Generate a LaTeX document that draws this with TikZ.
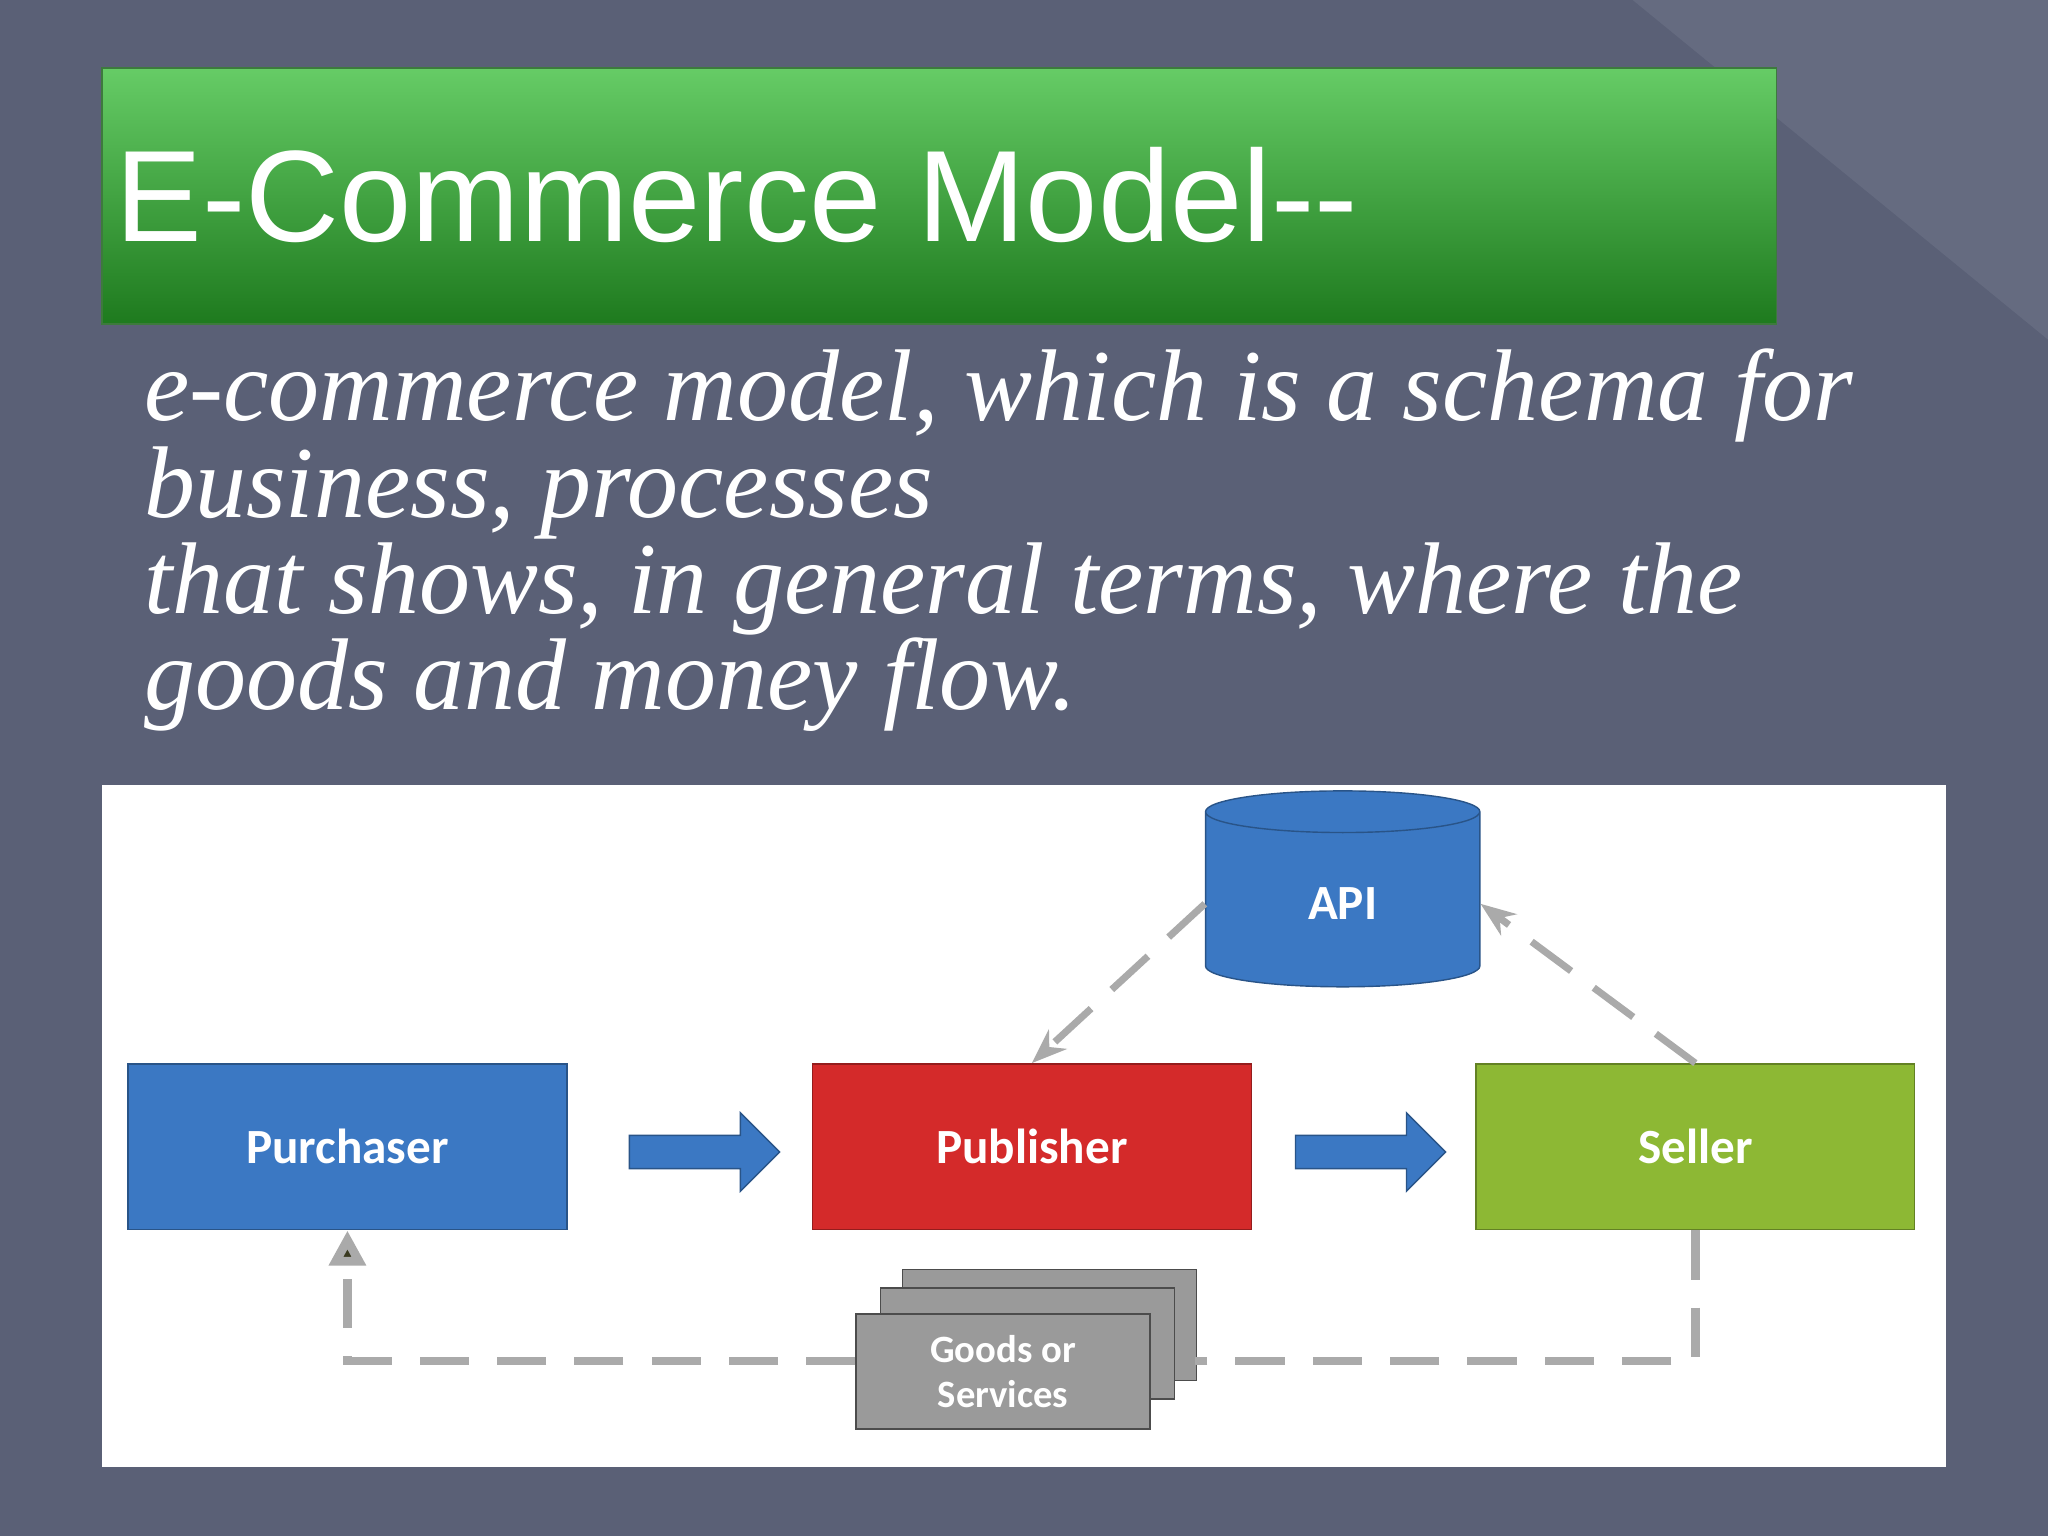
\documentclass[tikz,border=0pt]{standalone}
\usepackage{fontspec}
\setmainfont{Liberation Serif}
\newfontfamily\titlef{Liberation Sans}
\newfontfamily\nodef{Carlito}
\usetikzlibrary{shapes.geometric,shapes.arrows,arrows.meta}
\definecolor{bg}{HTML}{5A6076}
\definecolor{bgl}{HTML}{656B80}
\definecolor{gtop}{HTML}{66CC66}
\definecolor{gbot}{HTML}{1E7A1E}
\definecolor{pblue}{HTML}{3B78C3}
\definecolor{pred}{HTML}{D42A2A}
\definecolor{pgreen}{HTML}{8DB834}
\definecolor{dashc}{HTML}{AAAAAA}
\definecolor{docg}{HTML}{9A9A9A}
\definecolor{olive}{HTML}{3A3A20}
\begin{document}
\begin{tikzpicture}[x=0.013061cm,y=-0.013061cm,
  box/.style={draw=#1!70!black,fill=#1,text=white,font=\nodef\bfseries\fontsize{14}{16}\selectfont,minimum width=336*0.013061cm,minimum height=127*0.013061cm,inner sep=0},
  blk/.style={single arrow,fill=pblue,draw=pblue!70!black,minimum height=115*0.013061cm,minimum width=60*0.013061cm,single arrow head extend=3pt,inner sep=2pt},
  dl/.style={draw=dashc,line width=2.5pt,dash pattern=on 14pt off 8pt},
  line/.style={font=\itshape\fontsize{29}{32}\selectfont,text=white,anchor=base west,inner sep=0}]
\useasboundingbox (0,0) rectangle (1568,1176);
\fill[bg] (0,0) rectangle (1568,1176);
\fill[bgl] (1250,0) -- (1568,0) -- (1568,260) -- cycle;
\shade[top color=gtop,bottom color=gbot,draw=gtop!60!black] (78,52) rectangle (1360,248);
\node[anchor=base west,text=white,font=\titlef\fontsize{37}{42}\selectfont,inner sep=0] (title) at (88,185) {E-Commerce Model--};
\node[line] (l1) at (110,322) {e-commerce model, which is a schema for};
\node[line] (l2) at (110,396) {business, processes};
\node[line] (l3) at (110,470) {that shows, in general terms, where the};
\node[line] (l4) at (110,543) {goods and money flow.};
\fill[white] (78,601) rectangle (1490,1123);
\node[box=pblue] (pur) at (266,878) {Purchaser};
\node[box=pred] (pub) at (790,878) {Publisher};
\node[box=pgreen] (sel) at (1298,878) {Seller};
\node[cylinder,shape border rotate=90,aspect=0.45,fill=pblue,draw=pblue!70!black,minimum width=210*0.013061cm,minimum height=150*0.013061cm,text=white,font=\nodef\bfseries\fontsize{14}{16}\selectfont] (api) at (1028,692) {API};
\node[blk] (a1) at (533,882) {};
\node[blk] (a2) at (1043,882) {};
\foreach \d in {2,1}{\fill[docg,draw=gray!60!black] (657+\d*17,1000-\d*14) rectangle ++(225,85);}
\node[fill=docg,draw=gray!60!black,minimum width=225*0.013061cm,minimum height=88*0.013061cm,text=white,font=\nodef\bfseries\fontsize{11}{13}\selectfont,align=center] (goods) at (768,1050) {Goods or\\Services};
\coordinate (c1) at (1298,1042);
\coordinate (c2) at (266,1042);
\draw[dl] (sel.south) -- (c1) -- (c1 -| {(915,0)});
\draw[dl,-{Triangle[length=10pt,width=10pt,fill=olive]}] (goods.west |- c2) -- (c2) -- (pur.south);
\draw[dl,line width=2pt,-{Stealth[length=10pt]}] (api.west) -- (pub.north);
\draw[dl,line width=2pt,-{Stealth[length=10pt]}] (sel.north) -- (api.east);
\end{tikzpicture}
\end{document}
